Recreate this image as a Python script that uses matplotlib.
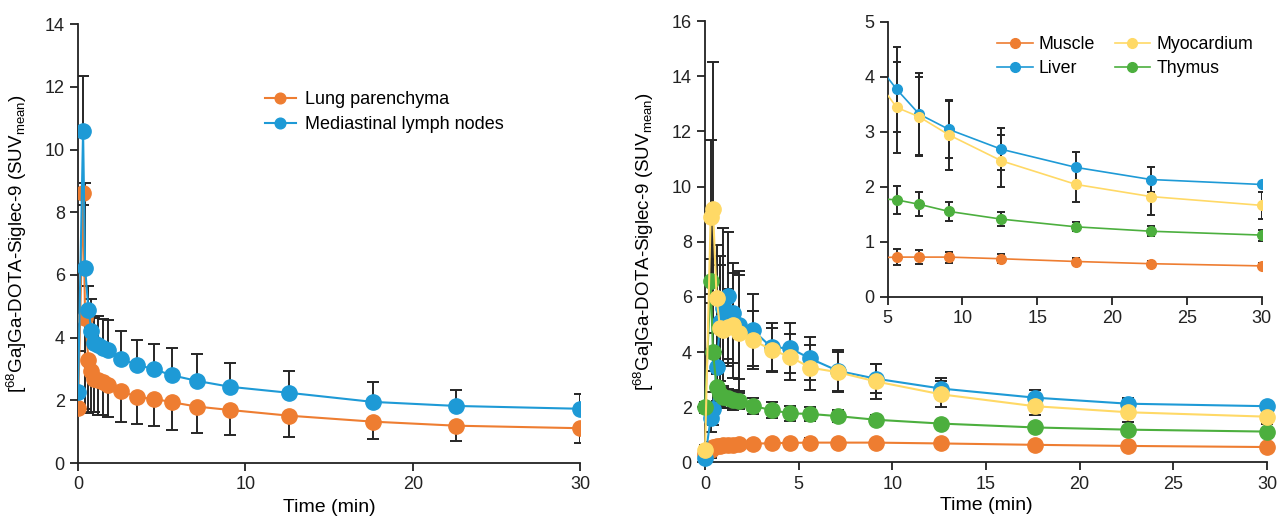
import numpy as np
import matplotlib
matplotlib.use("Agg")
import matplotlib.pyplot as plt

plt.rcParams['font.family'] = ['Liberation Sans', 'DejaVu Sans']
plt.rcParams['mathtext.default'] = 'regular'

# time points (min), shared by both panels
time_min = [0, 0.3, 0.42, 0.62, 0.8, 0.95, 1.2, 1.5, 1.8, 2.55, 3.55, 4.55,
            5.6, 7.1, 9.1, 12.6, 17.6, 22.6, 30]

# left panel
lung = [1.75, 8.62, 4.63, 3.3, 2.94, 2.68, 2.64, 2.58, 2.48, 2.3, 2.1, 2.05,
        1.94, 1.8, 1.69, 1.51, 1.32, 1.19, 1.11]
lung_err = [0.15, 0.4, 2.9, 1.7, 1.32, 1.05, 1.1, 1.05, 1.0, 1.0, 0.87, 0.88,
            0.88, 0.84, 0.8, 0.69, 0.56, 0.5, 0.48]
nodes = [2.28, 10.6, 6.23, 4.89, 4.22, 3.83, 3.77, 3.67, 3.6, 3.32, 3.13, 2.99,
         2.8, 2.62, 2.43, 2.24, 1.95, 1.82, 1.73]
nodes_err = [1.3, 1.75, 2.7, 0.75, 1.0, 0.8, 0.92, 0.93, 0.95, 0.88, 0.8, 0.81,
             0.87, 0.86, 0.77, 0.7, 0.65, 0.5, 0.47]

# right panel
muscle = [0.3, 0.45, 0.55, 0.58, 0.6, 0.62, 0.63, 0.65, 0.66, 0.68, 0.7, 0.71,
          0.72, 0.72, 0.72, 0.69, 0.64, 0.6, 0.56]
muscle_err = [0.1, 0.3, 0.2, 0.18, 0.17, 0.16, 0.16, 0.15, 0.15, 0.15, 0.15, 0.15,
              0.15, 0.12, 0.1, 0.08, 0.06, 0.05, 0.06]
liver = [0.15, 1.6, 1.95, 3.47, 5.1, 5.6, 6.05, 5.42, 4.98, 4.8, 4.17, 4.14,
         3.77, 3.32, 3.04, 2.68, 2.35, 2.13, 2.04]
liver_err = [0.1, 0.5, 0.6, 1.5, 2.4, 2.9, 2.3, 1.8, 1.96, 1.3, 0.87, 0.9,
             0.77, 0.74, 0.52, 0.38, 0.28, 0.22, 0.03]
myocardium = [0.45, 8.9, 9.2, 5.95, 4.86, 4.8, 4.9, 4.98, 4.68, 4.44, 4.08, 3.83,
              3.44, 3.27, 2.94, 2.47, 2.04, 1.82, 1.66]
myocardium_err = [0.2, 2.8, 5.3, 1.95, 2.3, 1.2, 1.4, 1.9, 2.1, 1.05, 0.8, 0.84,
                  0.83, 0.72, 0.64, 0.47, 0.31, 0.34, 0.25]
thymus = [2.0, 6.59, 4.01, 2.72, 2.5, 2.38, 2.32, 2.26, 2.23, 2.05, 1.9, 1.78,
          1.76, 1.68, 1.55, 1.41, 1.27, 1.19, 1.12]
thymus_err = [0.2, 0.8, 0.7, 0.5, 0.45, 0.4, 0.35, 0.35, 0.3, 0.3, 0.28, 0.27,
              0.25, 0.22, 0.18, 0.13, 0.08, 0.09, 0.1]

ORANGE = '#EE7D31'
BLUE = '#1E9AD6'
YELLOW = '#FFD966'
GREEN = '#4CAF3E'
ERR = '#262626'

ylabel = '[$^{68}$Ga]Ga-DOTA-Siglec-9 (SUV$_{mean}$)'


def style(ax, size=13):
    for s in ['top', 'right']:
        ax.spines[s].set_visible(False)
    for s in ['left', 'bottom']:
        ax.spines[s].set_linewidth(1.3)
        ax.spines[s].set_color('#222222')
    ax.tick_params(direction='out', length=6, width=1.3, labelsize=size, colors='#222222')


def series(ax, y, err, color, label, ms=11, lw=1.5, cap=4, up=True, down=True):
    e = np.array(err)
    lo = e if down else np.zeros_like(e)
    hi = e if up else np.zeros_like(e)
    ax.errorbar(time_min, y, yerr=[lo, hi], fmt='none', ecolor=ERR,
                elinewidth=1.4, capsize=cap, capthick=1.4, zorder=2)
    ax.plot(time_min, y, '-o', color=color, lw=lw, ms=ms, mec=color,
            label=label, zorder=3)


fig = plt.figure(figsize=(12.88, 5.2), dpi=100)

# ---- left panel
ax1 = fig.add_axes([0.0606, 0.1096, 0.3898, 0.844])
series(ax1, lung, lung_err, ORANGE, 'Lung parenchyma', up=False)
series(ax1, nodes, nodes_err, BLUE, 'Mediastinal lymph nodes', down=False)
ax1.set_xlim(0, 30)
ax1.set_ylim(0, 14)
ax1.set_xticks([0, 10, 20, 30])
ax1.set_yticks(range(0, 15, 2))
style(ax1)
ax1.set_xlabel('Time (min)', fontsize=14)
ax1.set_ylabel(ylabel, fontsize=13.5, labelpad=11)
ax1.legend(loc='upper left', bbox_to_anchor=(0.34, 0.885), frameon=False,
           fontsize=13, handlelength=1.7, markerscale=0.7, labelspacing=0.45,
           handletextpad=0.5)

# ---- right panel
ax2 = fig.add_axes([0.5474, 0.1106, 0.4363, 0.849])
series(ax2, muscle, muscle_err, ORANGE, 'Muscle')
series(ax2, liver, liver_err, BLUE, 'Liver')
series(ax2, thymus, thymus_err, GREEN, 'Thymus')
series(ax2, myocardium, myocardium_err, YELLOW, 'Myocardium')
ax2.set_xlim(0, 30)
ax2.set_ylim(0, 16)
ax2.set_xticks(range(0, 31, 5))
ax2.set_yticks(range(0, 17, 2))
style(ax2)
ax2.set_xlabel('Time (min)', fontsize=14, labelpad=3)
ax2.set_ylabel(ylabel, fontsize=13.5, labelpad=11)
for ln in ax2.lines:
    ln.set_clip_on(False)

# ---- inset
ax3 = fig.add_axes([0.6892, 0.4294, 0.2904, 0.529])
series(ax3, muscle, muscle_err, ORANGE, 'Muscle', ms=7, lw=1.2, cap=3)
series(ax3, liver, liver_err, BLUE, 'Liver', ms=7, lw=1.2, cap=3)
series(ax3, thymus, thymus_err, GREEN, 'Thymus', ms=7, lw=1.2, cap=3)
series(ax3, myocardium, myocardium_err, YELLOW, 'Myocardium', ms=7, lw=1.2, cap=3)
ax3.set_xlim(5, 30)
ax3.set_ylim(0, 5)
ax3.set_xticks(range(5, 31, 5))
ax3.set_yticks(range(0, 6))
style(ax3, size=13)
h, l = ax3.get_legend_handles_labels()
order = [0, 1, 3, 2]
ax3.legend([h[i] for i in order], [l[i] for i in order], ncol=2,
           loc='upper right', bbox_to_anchor=(1.02, 1.005), frameon=False,
           fontsize=12.8, handlelength=2.0, columnspacing=1.1, labelspacing=0.4,
           handletextpad=0.35)

fig.savefig('out.png', dpi=100)
